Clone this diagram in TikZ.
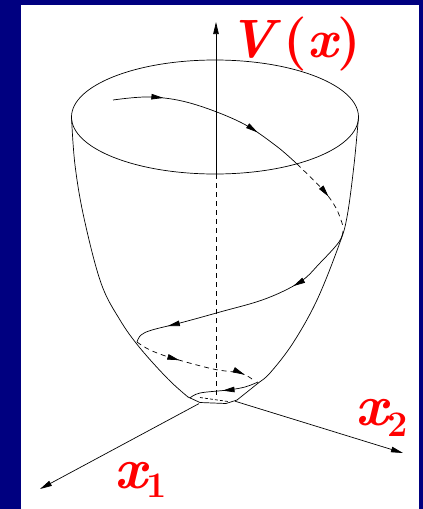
\documentclass[tikz,border=0pt]{standalone}
\usepackage{fontspec}
\usetikzlibrary{arrows.meta,decorations.markings}
\definecolor{framenavy}{RGB}{0,0,128}
\definecolor{labelred}{RGB}{255,0,0}
\tikzset{
  thin line/.style={line width=0.7pt, black},
  hidden/.style={thin line, dash pattern=on 5pt off 4pt},
  tip/.style={-{Triangle[length=12pt,width=5.5pt]}},
  mark at/.style={postaction={decorate, decoration={markings,
      mark=at position #1 with {\arrow{Triangle[length=12pt,width=5.5pt]}}}}},
  redlabel/.style={text=labelred, inner sep=0pt, anchor=base west}
}
\begin{document}
\begin{tikzpicture}[x=1pt,y=-1pt]
\useasboundingbox (0,0) rectangle (423,509);
\fill[framenavy] (0,0) rectangle (423,509);
\fill[white] (21,5) rectangle (419,509);

% coordinates
\coordinate (O) at (215,395);
\coordinate (vtop) at (216,22);
\coordinate (vrim) at (216,174);
\coordinate (vbot) at (216,396);
\coordinate (x1s) at (199,403.6);
\coordinate (x1e) at (40,489);
\coordinate (x2s) at (235,401.2);
\coordinate (x2e) at (403,453);

% rim ellipse
\draw[thin line] (215,117) ellipse [x radius=143.5, y radius=57];

% bowl sides
\draw[thin line] plot[smooth, tension=0.6] coordinates {(71.5,117) (75,165) (84,218) (101,283) (120,320) (140,348) (168,379) (188,397)};
\draw[thin line] plot[smooth, tension=0.6] coordinates {(358.5,117) (354,165) (347,217) (339,245) (317,300) (293,343) (270,373) (257,384) (237,400)};
% bottom
\draw[thin line] (188,397) -- (200,402.5) -- (226,403.5) -- (237,400);
\draw[hidden, dash pattern=on 3pt off 2pt] (200,397.5) -- (228,401.5);

% vertical axis
\draw[thin line, tip] (vrim) -- (vtop);
\draw[hidden] (vrim) -- (vbot);

% horizontal axes
\draw[thin line, tip] (x1s) -- (x1e);
\draw[thin line, tip] (x2s) -- (x2e);

% trajectory
\draw[thin line, mark at=0.25, mark at=0.75] plot[smooth, tension=0.6] coordinates {(113,100) (150,97) (190,103) (240,122) (275,145) (297,164)};
\draw[hidden, mark at=0.58] plot[smooth, tension=0.6] coordinates {(297,164) (323,190) (336,208) (343,226)};
\draw[thin line, mark at=0.31, mark at=0.85] plot[smooth, tension=0.6] coordinates {(343,231) (339,242) (320,263) (300,282) (265,299) (220,312) (180,323) (152,330) (141,335) (137,342)};
\draw[hidden, mark at=0.38, mark at=0.93] plot[smooth, tension=0.6] coordinates {(137,342) (150,350) (172,358) (213,369) (240,373) (252,379)};
\draw[thin line, mark at=0.52] plot[smooth, tension=0.6] coordinates {(258,382) (245,387) (228,390) (200,393) (190,398)};

% labels
\node[redlabel] (vlab) at (228,57) {\fontsize{54}{54}\selectfont\bfseries\itshape V\,\upshape(\itshape x\upshape)};
\node[redlabel] (x1lab) at (114,488) {\fontsize{58}{58}\selectfont\bfseries\itshape x\upshape\raisebox{-9pt}{\fontsize{36}{36}\selectfont 1}};
\node[redlabel] (x2lab) at (355,425) {\fontsize{58}{58}\selectfont\bfseries\itshape x\upshape\raisebox{-11pt}{\fontsize{36}{36}\selectfont 2}};
\end{tikzpicture}
\end{document}
